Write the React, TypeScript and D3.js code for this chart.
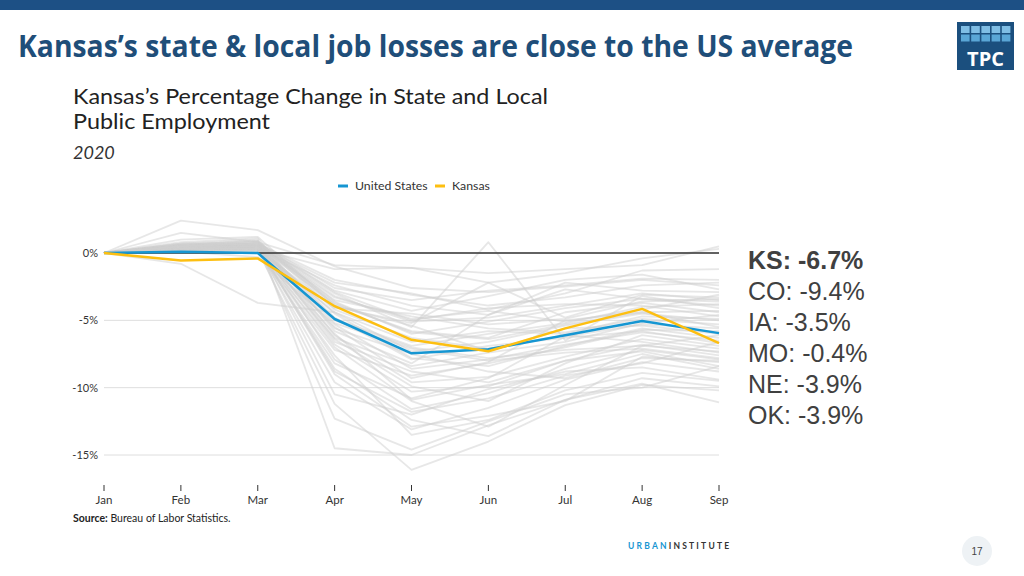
import React from "react";
import * as d3 from "d3";

const months = ["Jan", "Feb", "Mar", "Apr", "May", "Jun", "Jul", "Aug", "Sep"];
const yTicks = [0, -5, -10, -15];
const unitedStates = [0, 0.1, 0.0, -4.9, -7.45, -7.15, -6.1, -5.05, -5.95];
const kansas = [0, -0.55, -0.4, -3.95, -6.45, -7.3, -5.6, -4.15, -6.7];
const stateSeries: number[][] = [
  [0, 0.4, 0.6, -3.2, -5.1, -4.8, -3.9, -3.0, -3.5],
  [0, 0.3, 0.5, -4.5, -7.8, -8.4, -6.9, -5.6, -6.3],
  [0, 0.6, 0.9, -6.1, -9.6, -9.2, -7.7, -6.4, -7.1],
  [0, 0.2, 0.4, -2.4, -3.9, -4.6, -2.2, -2.8, -2.9],
  [0, 1.5, 0.8, -0.9, -1.1, -2.2, -1.5, -0.4, 0.3],
  [0, 0.5, 0.7, -7.9, -11.6, -10.4, -8.6, -7.2, -7.9],
  [0, 0.4, 0.3, -9.6, -13.1, -11.5, -9.4, -8.1, -8.8],
  [0, 0.7, 1.0, -14.5, -15.0, -12.8, -10.9, -9.3, -9.9],
  [0, 0.3, 0.2, -11.2, -16.1, -14.0, -11.3, -9.8, -10.2],
  [0, 0.1, -0.3, -5.3, -8.6, -7.9, -6.8, -5.9, -6.5],
  [0, 0.4, 0.5, -3.8, -5.8, -6.3, -4.4, -3.7, -4.4],
  [0, 0.5, 0.6, -4.9, -6.9, -6.0, -5.2, -4.0, -3.8],
  [0, 0.2, 0.3, -6.8, -10.3, -9.9, -8.0, -7.3, -8.4],
  [0, 0.6, 0.7, -2.0, -3.1, -3.9, -3.3, -2.4, -2.2],
  [0, 0.8, 1.1, -5.8, -8.2, -4.6, -2.7, -3.4, -3.9],
  [0, 0.3, 0.4, -8.6, -12.4, -13.6, -10.9, -9.7, -11.1],
  [0, 0.4, 0.6, -3.5, -4.7, -5.6, -5.9, -4.9, -5.3],
  [0, 0.5, 0.8, -4.2, -6.3, -7.1, -6.1, -6.6, -7.4],
  [0, 0.2, 0.1, -7.2, -9.1, -8.2, -7.0, -5.7, -5.8],
  [0, 0.6, 0.5, -10.5, -12.0, -10.1, -8.8, -8.5, -9.4],
  [0, -0.8, -3.7, -4.4, -7.3, -6.6, -5.4, -4.5, -5.0],
  [0, 0.3, 0.5, -5.6, -7.5, -8.8, -9.3, -7.8, -8.0],
  [0, 0.4, 0.7, -2.8, -4.3, -3.2, -2.0, -1.6, -2.7],
  [0, 0.5, 0.4, -6.4, -9.9, -11.0, -8.2, -6.1, -6.9],
  [0, 0.1, 0.6, -3.0, -5.5, 0.8, -6.5, -3.2, -4.1],
  [0, 0.6, 0.9, -4.0, -5.2, -2.2, -4.8, -3.1, -3.3],
  [0, 0.3, 0.2, -8.2, -10.8, -9.3, -6.2, -5.3, -5.6],
  [0, 0.2, 0.3, -1.2, -1.1, -1.5, -1.2, -0.9, 0.5],
  [0, 0.4, 0.5, -9.0, -12.9, -12.1, -11.0, -7.7, -8.1],
  [0, 0.7, 0.8, -3.6, -6.0, -5.1, -4.1, -3.4, -3.6],
  [0, 0.2, 0.4, -5.0, -7.0, -7.8, -7.2, -6.9, -6.1],
  [0, 0.5, 0.6, -6.6, -8.8, -9.6, -8.0, -6.8, -7.6],
  [0, 0.3, 0.3, -4.4, -6.6, -5.8, -6.0, -4.7, -4.9],
  [0, 0.1, 0.2, -7.6, -13.5, -12.4, -10.2, -8.9, -9.5],
  [0, 0.6, 0.8, -2.6, -3.5, -2.8, -2.4, -1.9, -2.0],
  [0, 0.4, 0.6, -5.5, -9.3, -8.1, -5.0, -4.4, -4.3],
  [0, 1.0, 1.2, -3.9, -5.4, -7.3, -5.6, -5.4, -6.0],
  [0, 0.3, 0.4, -12.3, -14.6, -12.5, -10.5, -10.0, -8.4],
  [0, 0.5, 0.3, -6.0, -10.9, -9.8, -9.0, -7.5, -8.6],
  [0, 0.2, 0.5, -3.3, -4.9, -4.3, -5.1, -4.2, -3.1],
  [0, 0.4, 0.7, -4.8, -7.9, -6.9, -6.3, -5.8, -6.7],
  [0, 0.6, 0.4, -7.0, -11.0, -12.9, -9.8, -6.9, -7.3],
  [0, 0.3, 0.6, -2.2, -3.0, -4.2, -3.0, -1.3, -1.2],
  [0, 0.5, 0.5, -5.2, -7.1, -8.0, -7.4, -7.1, -7.8],
  [0, 0.2, 0.4, -8.8, -11.8, -10.8, -9.1, -8.2, -6.6],
  [0, 0.7, 0.6, -3.7, -5.9, -6.4, -5.3, -4.4, -5.5],
  [0, 0.3, 0.5, -6.3, -8.4, -7.4, -6.6, -5.2, -4.6],
  [0, 0.4, 0.3, -4.1, -4.5, -5.3, -4.9, -3.6, -3.4],
  [0, 0.5, 0.7, -2.9, -5.0, -4.1, -3.8, -3.9, -4.7],
  [0, 2.4, 1.7, -1.0, -2.6, -2.9, -2.5, -2.0, -2.4],
];
const neighborLabels = ["KS: -6.7%", "CO: -9.4%", "IA: -3.5%", "MO: -0.4%", "NE: -3.9%", "OK: -3.9%"];

const BLUE = "#1696d2";
const YELLOW = "#fdbf11";

export default function App() {
  const x = d3.scalePoint<string>().domain(months).range([104, 719]);
  const y = d3.scaleLinear().domain([-15, 0]).range([455, 253]);
  const line = d3
    .line<number>()
    .x((_, i) => x(months[i]) as number)
    .y((d) => y(d));

  const lato = "Lato, 'Open Sans', sans-serif";

  return (
    <svg
      width={1024}
      height={576}
      style={{ position: "absolute", left: 0, top: 0, background: "#fff" }}
    >
      {/* top bar */}
      <rect x={0} y={0} width={1024} height={10} fill="#1d5085" />
      {/* slide title */}
      <text
        x={18}
        y={57}
        fontFamily="'Open Sans', sans-serif"
        fontWeight={700}
        fontSize={30}
        fill="#1f4e79"
        textLength={835}
        lengthAdjust="spacingAndGlyphs"
      >
        Kansas’s state &amp; local job losses are close to the US average
      </text>
      {/* TPC logo */}
      <g>
        <rect x={957} y={22} width={57} height={48} fill="#1b4f7e" />
        {[0, 1, 2, 3, 4].map((c) =>
          [0, 1].map((r) => (
            <rect
              key={`${c}-${r}`}
              x={961 + c * 10.2}
              y={26 + r * 8.5}
              width={8.6}
              height={7}
              fill={r === 0 ? "#7fbde4" : "#5aa6d6"}
            />
          ))
        )}
        <text
          x={985.5}
          y={66}
          textAnchor="middle"
          fontFamily="'Open Sans', sans-serif"
          fontWeight={700}
          fontSize={20}
          fill="#fff"
        >
          TPC
        </text>
      </g>

      {/* chart titles */}
      <text
        x={73}
        y={104}
        fontFamily={lato}
        fontSize={20.5}
        fill="#222"
        textLength={475}
        lengthAdjust="spacingAndGlyphs"
      >
        Kansas’s Percentage Change in State and Local
      </text>
      <text
        x={73}
        y={129}
        fontFamily={lato}
        fontSize={20.5}
        fill="#222"
        textLength={197}
        lengthAdjust="spacingAndGlyphs"
      >
        Public Employment
      </text>
      <text x={73} y={159} fontFamily={lato} fontStyle="italic" fontSize={18} fill="#333">
        2020
      </text>

      {/* legend */}
      <line x1={338} x2={348} y1={186} y2={186} stroke={BLUE} strokeWidth={3} />
      <text x={355} y={190} fontFamily={lato} fontSize={12.3} fill="#333">
        United States
      </text>
      <line x1={435} x2={445} y1={186} y2={186} stroke={YELLOW} strokeWidth={3} />
      <text x={452} y={190} fontFamily={lato} fontSize={12.3} fill="#333">
        Kansas
      </text>

      {/* gridlines */}
      {yTicks.map((t) => (
        <g key={t}>
          <line x1={104} x2={719} y1={y(t)} y2={y(t)} stroke="#dedede" strokeWidth={1} />
          <text
            x={98}
            y={y(t) + 4}
            textAnchor="end"
            fontFamily={lato}
            fontSize={11}
            fill="#333"
          >
            {t}%
          </text>
        </g>
      ))}

      {/* state lines */}
      <g fill="none" stroke="#d0d0d0" strokeWidth={1.8} strokeOpacity={0.5} strokeLinejoin="round">
        {stateSeries.map((s, i) => (
          <path key={i} d={line(s) as string} />
        ))}
      </g>

      {/* zero line */}
      <line x1={104} x2={719} y1={y(0)} y2={y(0)} stroke="#333" strokeWidth={1.5} />

      <path d={line(unitedStates) as string} fill="none" stroke={BLUE} strokeWidth={2.5} strokeLinejoin="round" />
      <path d={line(kansas) as string} fill="none" stroke={YELLOW} strokeWidth={2.5} strokeLinejoin="round" />

      {/* x axis */}
      {months.map((m) => (
        <g key={m}>
          <line x1={x(m)} x2={x(m)} y1={485} y2={491} stroke="#333" strokeWidth={1} />
          <text
            x={x(m)}
            y={504}
            textAnchor="middle"
            fontFamily={lato}
            fontSize={11.5}
            fill="#333"
          >
            {m}
          </text>
        </g>
      ))}
      <text x={73} y={522} fontFamily={lato} fontSize={10.5} fill="#222">
        <tspan fontWeight={700}>Source:</tspan> Bureau of Labor Statistics.
      </text>

      {/* neighbor labels */}
      {neighborLabels.map((l, i) => (
        <text
          key={l}
          x={748}
          y={269 + i * 31}
          fontFamily="'Liberation Sans', Arial, sans-serif"
          fontSize={25}
          fontWeight={i === 0 ? 700 : 400}
          fill="#404040"
        >
          {l}
        </text>
      ))}

      {/* Urban Institute */}
      <text x={628} y={549} fontFamily={lato} fontWeight={700} fontSize={8.5} letterSpacing={2.2}>
        <tspan fill="#1696d2">URBAN</tspan>
        <tspan fill="#333">INSTITUTE</tspan>
      </text>

      {/* page number */}
      <circle cx={977} cy={551} r={15} fill="#eef2f5" />
      <text x={977} y={555} textAnchor="middle" fontFamily="'Liberation Sans', Arial, sans-serif" fontSize={10} fill="#444">
        17
      </text>
    </svg>
  );
}
